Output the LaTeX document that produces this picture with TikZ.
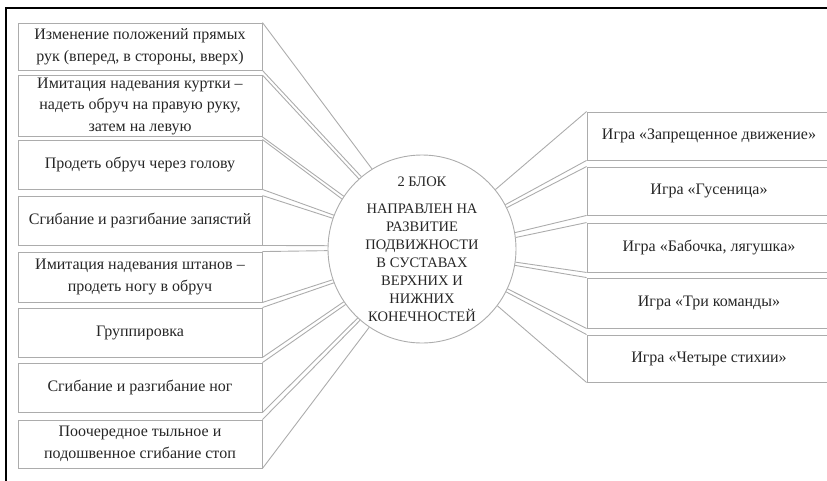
\documentclass[tikz,border=0pt]{standalone}
\usepackage{fontspec}
\setmainfont{Liberation Serif}
\begin{document}
\begin{tikzpicture}[x=1pt,y=-1pt,
  box/.style={draw=gray!65,line width=0.9pt,rectangle,align=center,inner sep=2pt,
    minimum width=244pt,font=\fontsize{16}{21.5}\selectfont,text=black!85},
  link/.style={draw=gray!65,line width=0.9pt}]
\useasboundingbox (0,0) rectangle (827,480);
%\draw[step=20pt,gray,very thin] (0,0) grid (827,480);
\draw[line width=2pt] (6,481) -- (6,8) -- (828,8);
% centre block
\node[draw=gray!65,line width=0.9pt,circle,minimum size=188pt,inner sep=0pt,align=center,
  font=\fontsize{14.5}{18}\selectfont,text=black!85] (blk) at (422,249)
  {2 БЛОК\\[9pt] НАПРАВЛЕН НА\\ РАЗВИТИЕ\\ ПОДВИЖНОСТИ\\ В СУСТАВАХ\\ ВЕРХНИХ И\\ НИЖНИХ\\ КОНЕЧНОСТЕЙ};
% left boxes
\node[box,minimum height=47pt] (l1) at (140,46.5) {Изменение положений прямых\\ рук (вперед, в стороны, вверх)};
\node[box,minimum height=56pt] (l2) at (140,106) {Имитация надевания куртки –\\ надеть обруч на правую руку,\\ затем на левую};
\node[box,minimum height=49pt] (l3) at (140,164.5) {Продеть обруч через голову};
\node[box,minimum height=49pt] (l4) at (140,220.5) {Сгибание и разгибание запястий};
\node[box,minimum height=50pt] (l5) at (140,277) {Имитация надевания штанов –\\ продеть ногу в обруч};
\node[box,minimum height=49pt] (l6) at (140,332.5) {Группировка};
\node[box,minimum height=49pt] (l7) at (140,387.5) {Сгибание и разгибание ног};
\node[box,minimum height=48pt] (l8) at (140,444) {Поочередное тыльное и\\ подошвенное сгибание стоп};
% right boxes
\node[box,minimum height=48pt] (r1) at (709,136) {Игра «Запрещенное движение»};
\node[box,minimum height=48pt] (r2) at (709,191) {Игра «Гусеница»};
\node[box,minimum height=49pt] (r3) at (709,247.5) {Игра «Бабочка, лягушка»};
\node[box,minimum height=50pt] (r4) at (709,303) {Игра «Три команды»};
\node[box,minimum height=47pt] (r5) at (709,358.5) {Игра «Четыре стихии»};
% links left
\draw[link] (l1.north east) -- (blk.122);
\draw[link] (l1.south east) -- (blk.130);
\draw[link] (l2.north east) -- (blk.132.5);
\draw[link] (l2.south east) -- (blk.146);
\draw[link] (l3.north east) -- (blk.148.5);
\draw[link] (l3.south east) -- (blk.159);
\draw[link] (l4.north east) -- (blk.161.5);
\draw[link] (l4.south east) -- (blk.178);
\draw[link] (l5.north east) -- (blk.181);
\draw[link] (l5.south east) -- (blk.199);
\draw[link] (l6.north east) -- (blk.201.5);
\draw[link] (l6.south east) -- (blk.214);
\draw[link] (l7.north east) -- (blk.216.5);
\draw[link] (l7.south east) -- (blk.227);
\draw[link] (l8.north east) -- (blk.229.5);
\draw[link] (l8.south east) -- (blk.236);
% links right
\draw[link] (r1.north west) -- (blk.39);
\draw[link] (r1.south west) -- (blk.28.5);
\draw[link] (r2.north west) -- (blk.26);
\draw[link] (r2.south west) -- (blk.10);
\draw[link] (r3.north west) -- (blk.7.5);
\draw[link] (r3.south west) -- (blk.-8);
\draw[link] (r4.north west) -- (blk.-10.5);
\draw[link] (r4.south west) -- (blk.-25);
\draw[link] (r5.north west) -- (blk.-27.5);
\draw[link] (r5.south west) -- (blk.-37);
\end{tikzpicture}
\end{document}
